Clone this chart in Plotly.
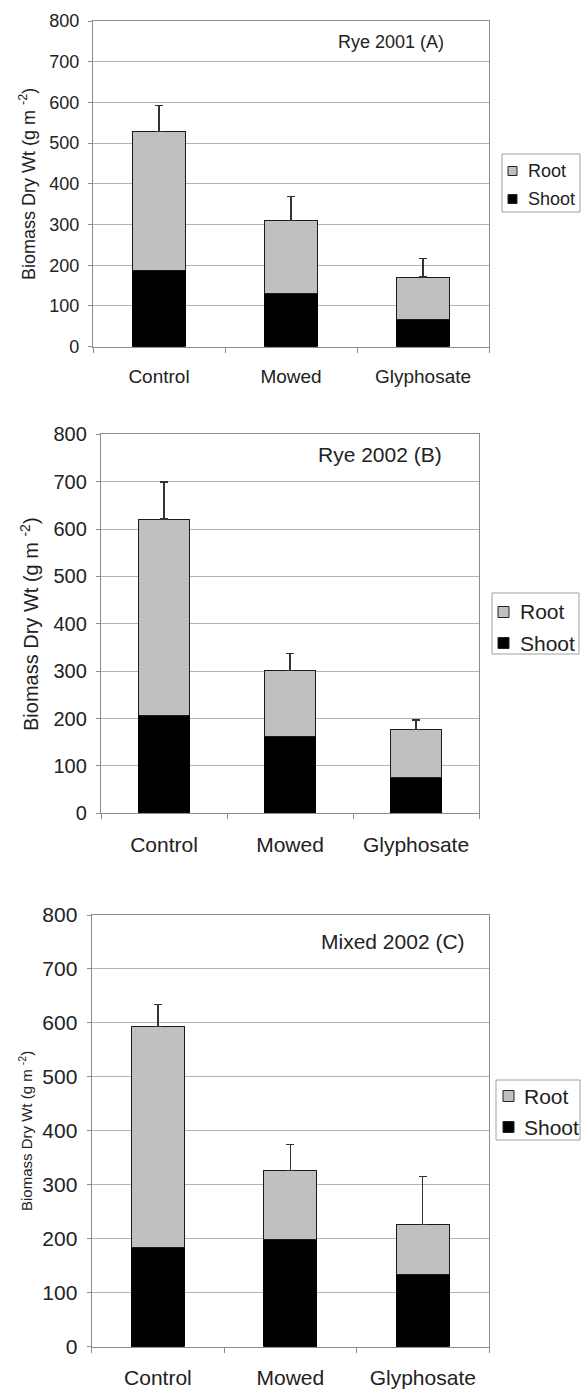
import plotly.graph_objects as go

# Treatments on the x axis
categories = ["Control", "Mowed", "Glyphosate"]

# Rye 2001 (A): shoot biomass, total (shoot + root) and upper error on total
shoot_a = [186, 131, 68]
total_a = [528, 310, 171]
err_a = [64, 59, 46]

# Rye 2002 (B)
shoot_b = [206, 162, 76]
total_b = [621, 302, 177]
err_b = [78, 36, 20]

# Mixed 2002 (C)
shoot_c = [184, 198, 133]
total_c = [594, 326, 226]
err_c = [40, 49, 90]

panel_titles = ["Rye 2001 (A)", "Rye 2002 (B)", "Mixed 2002 (C)"]
series_names = ["Root", "Shoot"]
y_ticks = [0, 100, 200, 300, 400, 500, 600, 700, 800]

W, H = 581, 1389
FONT = "Liberation Sans, Arial, sans-serif"
TEXT = "#222222"
GRID = "#b4b4b4"
AXIS = "#8c8c8c"
ROOT_FILL = "#c0c0c0"
SHOOT_FILL = "#000000"


def px_x(v):
    return v / W


def px_y(v):
    return 1 - v / H


# per-panel geometry (pixels) and font sizes; legend box = (left, top, right, bottom)
panels = [
    dict(shoot=shoot_a, total=total_a, err=err_a, left=93, right=489, top=21, bottom=346.7,
         tick=18, cat=19, ttl=18, ytitle=18, tx=391, ty=42, yx=28, yy=184,
         box=(502, 154, 580, 212), sq=(508, 9), txt_x=526, rows=(171, 199), legfont=18),
    dict(shoot=shoot_b, total=total_b, err=err_b, left=101, right=479, top=434.3, bottom=813.3,
         tick=20, cat=21, ttl=21, ytitle=20, tx=380, ty=455, yx=29, yy=624,
         box=(492, 593, 579, 654), sq=(498, 11), txt_x=518, rows=(612, 643), legfont=21),
    dict(shoot=shoot_c, total=total_c, err=err_c, left=91.7, right=489, top=915, bottom=1346.7,
         tick=21, cat=21, ttl=21, ytitle=15, tx=392.5, ty=941, yx=25, yy=1131,
         box=(496, 1080, 580, 1140), sq=(503, 11), txt_x=522, rows=(1096, 1127), legfont=21),
]

fig = go.Figure()
annotations = []
shapes = []
layout = {}

for i, p in enumerate(panels, start=1):
    sfx = "" if i == 1 else str(i)
    root = [t - s for t, s in zip(p["total"], p["shoot"])]

    fig.add_trace(go.Bar(
        x=categories, y=p["shoot"], name="Shoot", showlegend=False,
        marker=dict(color=SHOOT_FILL, line=dict(color="#000000", width=1)),
        xaxis="x" + sfx, yaxis="y" + sfx,
    ))
    fig.add_trace(go.Bar(
        x=categories, y=root, name="Root", showlegend=False,
        marker=dict(color=ROOT_FILL, line=dict(color="#1a1a1a", width=1)),
        error_y=dict(type="data", symmetric=False, array=p["err"],
                     arrayminus=[0] * len(p["err"]),
                     color="#333333", thickness=1.3, width=4),
        xaxis="x" + sfx, yaxis="y" + sfx,
    ))

    layout["xaxis" + sfx] = dict(
        domain=[px_x(p["left"]), px_x(p["right"])], anchor="y" + sfx,
        showline=True, linecolor=AXIS, linewidth=1.3, mirror=True,
        ticks="outside", tickson="boundaries", ticklen=5, tickcolor=AXIS, tickwidth=1,
        showgrid=False, tickfont=dict(size=p["cat"], color=TEXT, family=FONT),
        ticklabelstandoff=12,
    )
    layout["yaxis" + sfx] = dict(
        domain=[px_y(p["bottom"]), px_y(p["top"])], anchor="x" + sfx,
        range=[0, 800], tickvals=y_ticks, showline=True, linecolor=AXIS, linewidth=1.3,
        mirror=True, ticks="outside", ticklen=4, tickcolor=AXIS,
        showgrid=True, gridcolor=GRID, gridwidth=1, zeroline=False,
        tickfont=dict(size=p["tick"], color=TEXT, family=FONT),
        ticklabelstandoff=5,
    )

    # legend: framed box with a swatch and label per series
    bl, bt, br, bb = p["box"]
    shapes.append(dict(type="rect", xref="paper", yref="paper",
                       x0=px_x(bl), x1=px_x(br), y0=px_y(bb), y1=px_y(bt),
                       line=dict(color="#a0a0a0", width=1), fillcolor="white", layer="above"))
    sx, ss = p["sq"]
    for name, fill, cy in zip(series_names, [ROOT_FILL, SHOOT_FILL], p["rows"]):
        shapes.append(dict(type="rect", xref="paper", yref="paper",
                           x0=px_x(sx), x1=px_x(sx + ss),
                           y0=px_y(cy + ss / 2), y1=px_y(cy - ss / 2),
                           line=dict(color="#222222", width=1), fillcolor=fill, layer="above"))
        annotations.append(dict(
            text=name, xref="paper", yref="paper", x=px_x(p["txt_x"]), y=px_y(cy),
            xanchor="left", yanchor="middle", showarrow=False,
            font=dict(size=p["legfont"], color=TEXT, family=FONT),
        ))

    annotations.append(dict(
        text=panel_titles[i - 1], xref="paper", yref="paper",
        x=px_x(p["tx"]), y=px_y(p["ty"]), xanchor="center", yanchor="middle",
        showarrow=False, font=dict(size=p["ttl"], color=TEXT, family=FONT),
    ))
    annotations.append(dict(
        text="Biomass Dry Wt (g m <sup>-2</sup>)", xref="paper", yref="paper",
        x=px_x(p["yx"]), y=px_y(p["yy"]), xanchor="center", yanchor="middle",
        textangle=-90, showarrow=False,
        font=dict(size=p["ytitle"], color=TEXT, family=FONT),
    ))

fig.update_layout(
    width=W, height=H, margin=dict(l=0, r=0, t=0, b=0, autoexpand=False),
    paper_bgcolor="white", plot_bgcolor="white",
    barmode="stack", bargap=0.6, showlegend=False,
    annotations=annotations, shapes=shapes, **layout,
)

fig.write_html("out.html")
